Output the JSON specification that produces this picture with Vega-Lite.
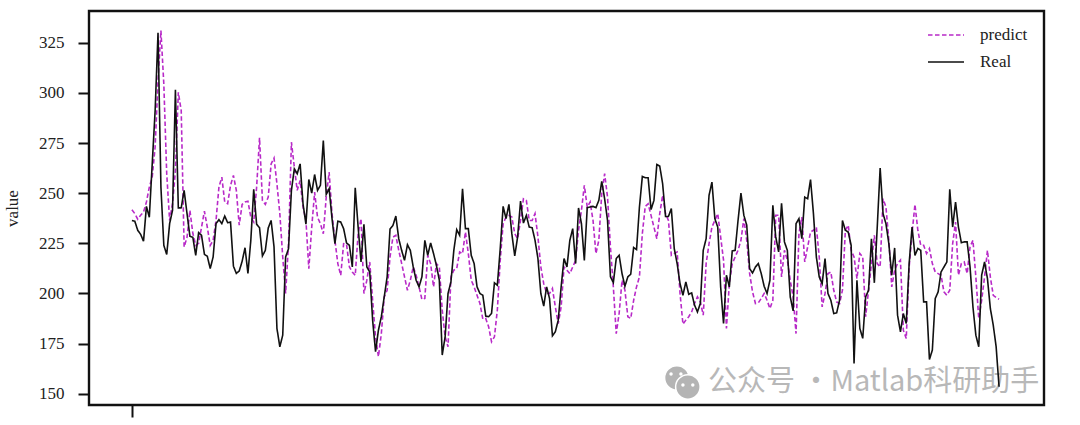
{"$schema":"https://vega.github.io/schema/vega-lite/v6.json","width":955,"height":394,"autosize":"none","padding":{"left":89,"top":11,"right":36,"bottom":20},"background":"white","config":{"view":{"stroke":"#111111","strokeWidth":2.4},"font":"Liberation Serif"},
"layer":[
{"data":{"values":[{"i":187.9,"v":157.9},{"i":191.7,"v":153.4}]},"mark":{"type":"point","filled":true,"color":"#b4b4b4","opacity":1,"stroke":"white","strokeWidth":1.5,"size":600,"shape":"circle"},"encoding":{"x":{"field":"i","type":"quantitative","scale":{"domain":[-14.8,314.5],"nice":false}},"y":{"field":"v","type":"quantitative","scale":{"domain":[144.4,340.8],"nice":false}}}},
{"data":{"values":[{"i":185.9,"v":159.9},{"i":189.3,"v":159.9},{"i":190,"v":154.4},{"i":193.4,"v":154.4}]},"mark":{"type":"point","filled":true,"color":"white","opacity":1,"size":12,"shape":"circle"},"encoding":{"x":{"field":"i","type":"quantitative"},"y":{"field":"v","type":"quantitative"}}},
{"data":{"values":[{"i":198.6,"v":155.9,"t":"公众号 ·Matlab科研助手"}]},"mark":{"type":"text","align":"left","baseline":"middle","font":"Noto Sans CJK SC","fontSize":29,"color":"#b8b8b8"},"encoding":{"x":{"field":"i","type":"quantitative"},"y":{"field":"v","type":"quantitative"},"text":{"field":"t"}}},
{"data":{"values":[
{"i":0,"Real":236.4,"predict":241.7},{"i":1,"Real":236,"predict":239.8},{"i":2,"Real":231.5,"predict":237},{"i":3,"Real":229.5,"predict":239},{"i":4,"Real":226,"predict":240.6},{"i":5,"Real":243.4,"predict":245.6},{"i":6,"Real":238,"predict":253},{"i":7,"Real":264.6,"predict":258},{"i":8,"Real":291,"predict":273},{"i":9,"Real":330,"predict":306},
{"i":10,"Real":253,"predict":331},{"i":11,"Real":224,"predict":304.4},{"i":12,"Real":219.4,"predict":259.7},{"i":13,"Real":234.8,"predict":236.4},{"i":14,"Real":241.4,"predict":244.7},{"i":15,"Real":301.5,"predict":261.3},{"i":16,"Real":242.6,"predict":300.3},{"i":17,"Real":242.7,"predict":291.2},{"i":18,"Real":251.4,"predict":223.2},{"i":19,"Real":239.8,"predict":228},
{"i":20,"Real":228.5,"predict":241.4},{"i":21,"Real":228,"predict":230},{"i":22,"Real":219,"predict":224},{"i":23,"Real":230.3,"predict":225},{"i":24,"Real":229,"predict":233},{"i":25,"Real":219.5,"predict":241},{"i":26,"Real":218.5,"predict":233},{"i":27,"Real":212.4,"predict":224},{"i":28,"Real":218.2,"predict":226.5},{"i":29,"Real":234.8,"predict":236.4},
{"i":30,"Real":236.8,"predict":253},{"i":31,"Real":234.8,"predict":258},{"i":32,"Real":238.6,"predict":245.6},{"i":33,"Real":235.3,"predict":244.7},{"i":34,"Real":235.6,"predict":253.9},{"i":35,"Real":213.6,"predict":258.8},{"i":36,"Real":210,"predict":251.4},{"i":37,"Real":211.2,"predict":234},{"i":38,"Real":216,"predict":244.4},{"i":39,"Real":222.8,"predict":245.6},
{"i":40,"Real":210,"predict":246},{"i":41,"Real":226.5,"predict":238},{"i":42,"Real":251.9,"predict":235.6},{"i":43,"Real":234.5,"predict":253},{"i":44,"Real":232.8,"predict":277.6},{"i":45,"Real":218.7,"predict":246.4},{"i":46,"Real":221.5,"predict":244.4},{"i":47,"Real":232.6,"predict":248},{"i":48,"Real":236.4,"predict":264.6},{"i":49,"Real":223.2,"predict":267.5},
{"i":50,"Real":182.6,"predict":254.7},{"i":51,"Real":173.4,"predict":239.8},{"i":52,"Real":179.2,"predict":218.2},{"i":53,"Real":218.2,"predict":200},{"i":54,"Real":222.3,"predict":224.8},{"i":55,"Real":251.4,"predict":275.4},{"i":56,"Real":262.1,"predict":263},{"i":57,"Real":259.7,"predict":251.4},{"i":58,"Real":264.6,"predict":256.3},{"i":59,"Real":244.7,"predict":243},
{"i":60,"Real":234.5,"predict":236.4},{"i":61,"Real":256.8,"predict":212.4},{"i":62,"Real":250,"predict":233},{"i":63,"Real":259.3,"predict":250.5},{"i":64,"Real":251.4,"predict":238},{"i":65,"Real":253.9,"predict":234.8},{"i":66,"Real":276.2,"predict":229.8},{"i":67,"Real":249.4,"predict":248},{"i":68,"Real":252.2,"predict":260.5},{"i":69,"Real":237.3,"predict":239.8},
{"i":70,"Real":224.8,"predict":226.5},{"i":71,"Real":236,"predict":214.9},{"i":72,"Real":235.6,"predict":209},{"i":73,"Real":232.3,"predict":224.8},{"i":74,"Real":225.2,"predict":224.5},{"i":75,"Real":224,"predict":213.2},{"i":76,"Real":213.2,"predict":210.7},{"i":77,"Real":252.7,"predict":209},{"i":78,"Real":233.1,"predict":229.8},{"i":79,"Real":215.7,"predict":237.3},
{"i":80,"Real":234.5,"predict":200},{"i":81,"Real":213.2,"predict":206.6},{"i":82,"Real":210.7,"predict":215.7},{"i":83,"Real":186.7,"predict":196.6},{"i":84,"Real":171,"predict":178.4},{"i":85,"Real":181.7,"predict":168.5},{"i":86,"Real":188.4,"predict":180},{"i":87,"Real":198.3,"predict":198.3},{"i":88,"Real":208.2,"predict":201.6},{"i":89,"Real":232.1,"predict":218.2},
{"i":90,"Real":233.9,"predict":228.1},{"i":91,"Real":238.6,"predict":229},{"i":92,"Real":227.3,"predict":221.5},{"i":93,"Real":221.5,"predict":215},{"i":94,"Real":216.5,"predict":208.3},{"i":95,"Real":224.3,"predict":201.6},{"i":96,"Real":221.5,"predict":206.6},{"i":97,"Real":213.2,"predict":213.2},{"i":98,"Real":206.6,"predict":209.1},{"i":99,"Real":203.3,"predict":203.3},
{"i":100,"Real":208.3,"predict":197},{"i":101,"Real":226.5,"predict":197.5},{"i":102,"Real":219,"predict":219},{"i":103,"Real":225.2,"predict":214.9},{"i":104,"Real":219.9,"predict":203.3},{"i":105,"Real":214,"predict":214.9},{"i":106,"Real":206.6,"predict":213.2},{"i":107,"Real":169.3,"predict":191.7},{"i":108,"Real":178.4,"predict":178.4},{"i":109,"Real":200,"predict":173.4},
{"i":110,"Real":205.8,"predict":208.3},{"i":111,"Real":221.5,"predict":211.6},{"i":112,"Real":231.8,"predict":212.4},{"i":113,"Real":229,"predict":220.7},{"i":114,"Real":252.2,"predict":219.9},{"i":115,"Real":232.3,"predict":230.6},{"i":116,"Real":232.3,"predict":219.9},{"i":117,"Real":219,"predict":206.6},{"i":118,"Real":214.9,"predict":203.3},{"i":119,"Real":203.3,"predict":199.1},
{"i":120,"Real":200,"predict":195},{"i":121,"Real":199.1,"predict":187.2},{"i":122,"Real":188.7,"predict":187.5},{"i":123,"Real":188.4,"predict":183.4},{"i":124,"Real":190,"predict":175.9},{"i":125,"Real":205.3,"predict":178.4},{"i":126,"Real":204.1,"predict":191.7},{"i":127,"Real":222.4,"predict":216.5},{"i":128,"Real":243.4,"predict":234.8},{"i":129,"Real":237.3,"predict":238.1},
{"i":130,"Real":244.4,"predict":238.9},{"i":131,"Real":229.8,"predict":238.1},{"i":132,"Real":218.7,"predict":229.8},{"i":133,"Real":228.2,"predict":227.3},{"i":134,"Real":246,"predict":236.4},{"i":135,"Real":235.1,"predict":247.2},{"i":136,"Real":238.9,"predict":246.4},{"i":137,"Real":233.1,"predict":236.4},{"i":138,"Real":232.8,"predict":236.4},{"i":139,"Real":226.5,"predict":239.8},
{"i":140,"Real":217.4,"predict":228.2},{"i":141,"Real":200,"predict":213.2},{"i":142,"Real":193.7,"predict":204.9},{"i":143,"Real":203.3,"predict":200},{"i":144,"Real":197.5,"predict":200},{"i":145,"Real":178.9,"predict":202.5},{"i":146,"Real":180.9,"predict":193.3},{"i":147,"Real":186.7,"predict":185},{"i":148,"Real":203.3,"predict":193.3},{"i":149,"Real":217.4,"predict":213.2},
{"i":150,"Real":213.2,"predict":211.6},{"i":151,"Real":226.5,"predict":209.9},{"i":152,"Real":232.3,"predict":213.2},{"i":153,"Real":214.9,"predict":216.5},{"i":154,"Real":242.6,"predict":231.5},{"i":155,"Real":234.8,"predict":241.4},{"i":156,"Real":216.5,"predict":253.9},{"i":157,"Real":242.8,"predict":243.1},{"i":158,"Real":243.1,"predict":245.6},{"i":159,"Real":243.4,"predict":236.4},
{"i":160,"Real":242.8,"predict":219.9},{"i":161,"Real":246.4,"predict":226.5},{"i":162,"Real":255.9,"predict":249.7},{"i":163,"Real":247.2,"predict":259.7},{"i":164,"Real":236.4,"predict":248},{"i":165,"Real":208.3,"predict":223.2},{"i":166,"Real":205.4,"predict":203.3},{"i":167,"Real":217.4,"predict":180},{"i":168,"Real":219,"predict":190},{"i":169,"Real":209.9,"predict":206.6},
{"i":170,"Real":203.6,"predict":201.6},{"i":171,"Real":208.3,"predict":188.4},{"i":172,"Real":209.6,"predict":187.5},{"i":173,"Real":222.9,"predict":196.6},{"i":174,"Real":221.9,"predict":203.3},{"i":175,"Real":243.1,"predict":208.3},{"i":176,"Real":258.3,"predict":229.8},{"i":177,"Real":257.7,"predict":243.4},{"i":178,"Real":257.7,"predict":244.7},{"i":179,"Real":241.8,"predict":238.9},
{"i":180,"Real":246.4,"predict":233.1},{"i":181,"Real":264.3,"predict":227.3},{"i":182,"Real":263.5,"predict":239.8},{"i":183,"Real":254.7,"predict":248.9},{"i":184,"Real":238.4,"predict":239.8},{"i":185,"Real":238.4,"predict":236.4},{"i":186,"Real":242.3,"predict":219},{"i":187,"Real":222.4,"predict":219.9},{"i":188,"Real":214.9,"predict":220.7},{"i":189,"Real":204.9,"predict":200},
{"i":190,"Real":199.1,"predict":184.7},{"i":191,"Real":205.8,"predict":186.7},{"i":192,"Real":199.6,"predict":188.4},{"i":193,"Real":200.3,"predict":190.8},{"i":194,"Real":194.2,"predict":195},{"i":195,"Real":190.8,"predict":198.3},{"i":196,"Real":195,"predict":195.8},{"i":197,"Real":221.5,"predict":189.2},{"i":198,"Real":227.3,"predict":214.9},{"i":199,"Real":248.9,"predict":224.8},
{"i":200,"Real":255.5,"predict":233.1},{"i":201,"Real":237.3,"predict":236.4},{"i":202,"Real":233.1,"predict":239.8},{"i":203,"Real":203.3,"predict":228.2},{"i":204,"Real":185,"predict":216.6},{"i":205,"Real":209.1,"predict":182.6},{"i":206,"Real":203.3,"predict":204.9},{"i":207,"Real":221.2,"predict":214.9},{"i":208,"Real":221.5,"predict":218.2},{"i":209,"Real":236.4,"predict":221.5},
{"i":210,"Real":250,"predict":226.5},{"i":211,"Real":239,"predict":237.3},{"i":212,"Real":234,"predict":226.5},{"i":213,"Real":212.4,"predict":209.9},{"i":214,"Real":210.2,"predict":200.8},{"i":215,"Real":213.2,"predict":195},{"i":216,"Real":214.9,"predict":195.3},{"i":217,"Real":209.9,"predict":197.5},{"i":218,"Real":203.6,"predict":200},{"i":219,"Real":200,"predict":196.6},
{"i":220,"Real":206.6,"predict":192.5},{"i":221,"Real":243.9,"predict":196.6},{"i":222,"Real":228.2,"predict":239},{"i":223,"Real":220.7,"predict":239},{"i":224,"Real":245,"predict":208.2},{"i":225,"Real":225.7,"predict":221.5},{"i":226,"Real":221.5,"predict":216.6},{"i":227,"Real":198.3,"predict":206.6},{"i":228,"Real":191.3,"predict":198.3},{"i":229,"Real":234.8,"predict":180},
{"i":230,"Real":237.3,"predict":229.8},{"i":231,"Real":227.3,"predict":238.1},{"i":232,"Real":248,"predict":215.7},{"i":233,"Real":247.2,"predict":223.2},{"i":234,"Real":256.8,"predict":230.6},{"i":235,"Real":239.8,"predict":231.5},{"i":236,"Real":218.2,"predict":233.1},{"i":237,"Real":208.2,"predict":218.2},{"i":238,"Real":204.9,"predict":193.3},{"i":239,"Real":217.4,"predict":200},
{"i":240,"Real":200,"predict":209.9},{"i":241,"Real":196.6,"predict":210.7},{"i":242,"Real":190,"predict":201.6},{"i":243,"Real":190.3,"predict":195.8},{"i":244,"Real":196.6,"predict":195},{"i":245,"Real":236.4,"predict":201.6},{"i":246,"Real":231.5,"predict":231.5},{"i":247,"Real":230.6,"predict":234},{"i":248,"Real":224,"predict":221.5},{"i":249,"Real":165.1,"predict":218.2},
{"i":250,"Real":206.6,"predict":207.4},{"i":251,"Real":182.6,"predict":219.9},{"i":252,"Real":177.6,"predict":218.2},{"i":253,"Real":198.3,"predict":188.4},{"i":254,"Real":201.6,"predict":201.6},{"i":255,"Real":227.3,"predict":214.9},{"i":256,"Real":205.3,"predict":229},{"i":257,"Real":233.1,"predict":214.9},{"i":258,"Real":262.5,"predict":213.2},{"i":259,"Real":239.8,"predict":247.2},
{"i":260,"Real":234.8,"predict":243.1},{"i":261,"Real":224.8,"predict":226.5},{"i":262,"Real":209.1,"predict":203.3},{"i":263,"Real":222.7,"predict":211.6},{"i":264,"Real":189.2,"predict":214.9},{"i":265,"Real":180.9,"predict":216.6},{"i":266,"Real":190,"predict":181.7},{"i":267,"Real":185,"predict":177.6},{"i":268,"Real":214.9,"predict":213.2},{"i":269,"Real":233.1,"predict":229.8},
{"i":270,"Real":219,"predict":244.4},{"i":271,"Real":222.4,"predict":231.5},{"i":272,"Real":221.5,"predict":224},{"i":273,"Real":195.8,"predict":224},{"i":274,"Real":195.8,"predict":219.9},{"i":275,"Real":167.1,"predict":222.4},{"i":276,"Real":171.8,"predict":214.9},{"i":277,"Real":197.5,"predict":210.7},{"i":278,"Real":200.8,"predict":209.9},{"i":279,"Real":210.7,"predict":209.1},
{"i":280,"Real":213.2,"predict":200.8},{"i":281,"Real":215.7,"predict":199.1},{"i":282,"Real":251.9,"predict":201.6},{"i":283,"Real":233.1,"predict":224.8},{"i":284,"Real":245.6,"predict":235.6},{"i":285,"Real":233.1,"predict":209.1},{"i":286,"Real":225.3,"predict":214.9},{"i":287,"Real":225.7,"predict":215.7},{"i":288,"Real":225.7,"predict":209.9},{"i":289,"Real":213.2,"predict":223.2},
{"i":290,"Real":193.3,"predict":226.5},{"i":291,"Real":179.2,"predict":208.2},{"i":292,"Real":173.4,"predict":187.5},{"i":293,"Real":209.1,"predict":196.6},{"i":294,"Real":215.7,"predict":208.2},{"i":295,"Real":207.4,"predict":221.5},{"i":296,"Real":192.5,"predict":208.2},{"i":297,"Real":184.2,"predict":199.1},{"i":298,"Real":173.4,"predict":198},{"i":299,"Real":153.5,"predict":197.1}
]},
"transform":[{"fold":["predict","Real"],"as":["series","value"]}],
"mark":{"type":"line","strokeWidth":1.6,"interpolate":"linear"},
"encoding":{
"x":{"field":"i","type":"quantitative","axis":{"values":[0],"labels":false,"title":null,"grid":false,"domain":false,"tickSize":12,"tickWidth":2,"tickColor":"#111111"}},
"y":{"field":"value","type":"quantitative","axis":{"values":[150,175,200,225,250,275,300,325],"title":"value","titleFont":"Liberation Serif","titleFontSize":17,"titleFontWeight":"normal","titleColor":"#222222","titlePadding":17,"labelFont":"Liberation Serif","labelFontSize":17,"labelColor":"#222222","labelPadding":14,"grid":false,"domain":false,"tickSize":11,"tickWidth":2,"tickColor":"#111111"}},
"color":{"field":"series","type":"nominal","scale":{"domain":["predict","Real"],"range":["#b82ac8","#111111"]},"legend":{"title":null,"orient":"none","legendX":838,"legendY":5,"labelFont":"Liberation Serif","labelFontSize":17,"labelColor":"#222222","symbolSize":1296,"symbolStrokeWidth":1.6,"symbolType":"stroke","rowPadding":-11,"labelOffset":15}},
"strokeDash":{"field":"series","type":"nominal","scale":{"domain":["predict","Real"],"range":[[4.5,2.5],[1,0]]},"legend":null}
}}
],
"resolve":{"scale":{"x":"shared","y":"shared"}}}
